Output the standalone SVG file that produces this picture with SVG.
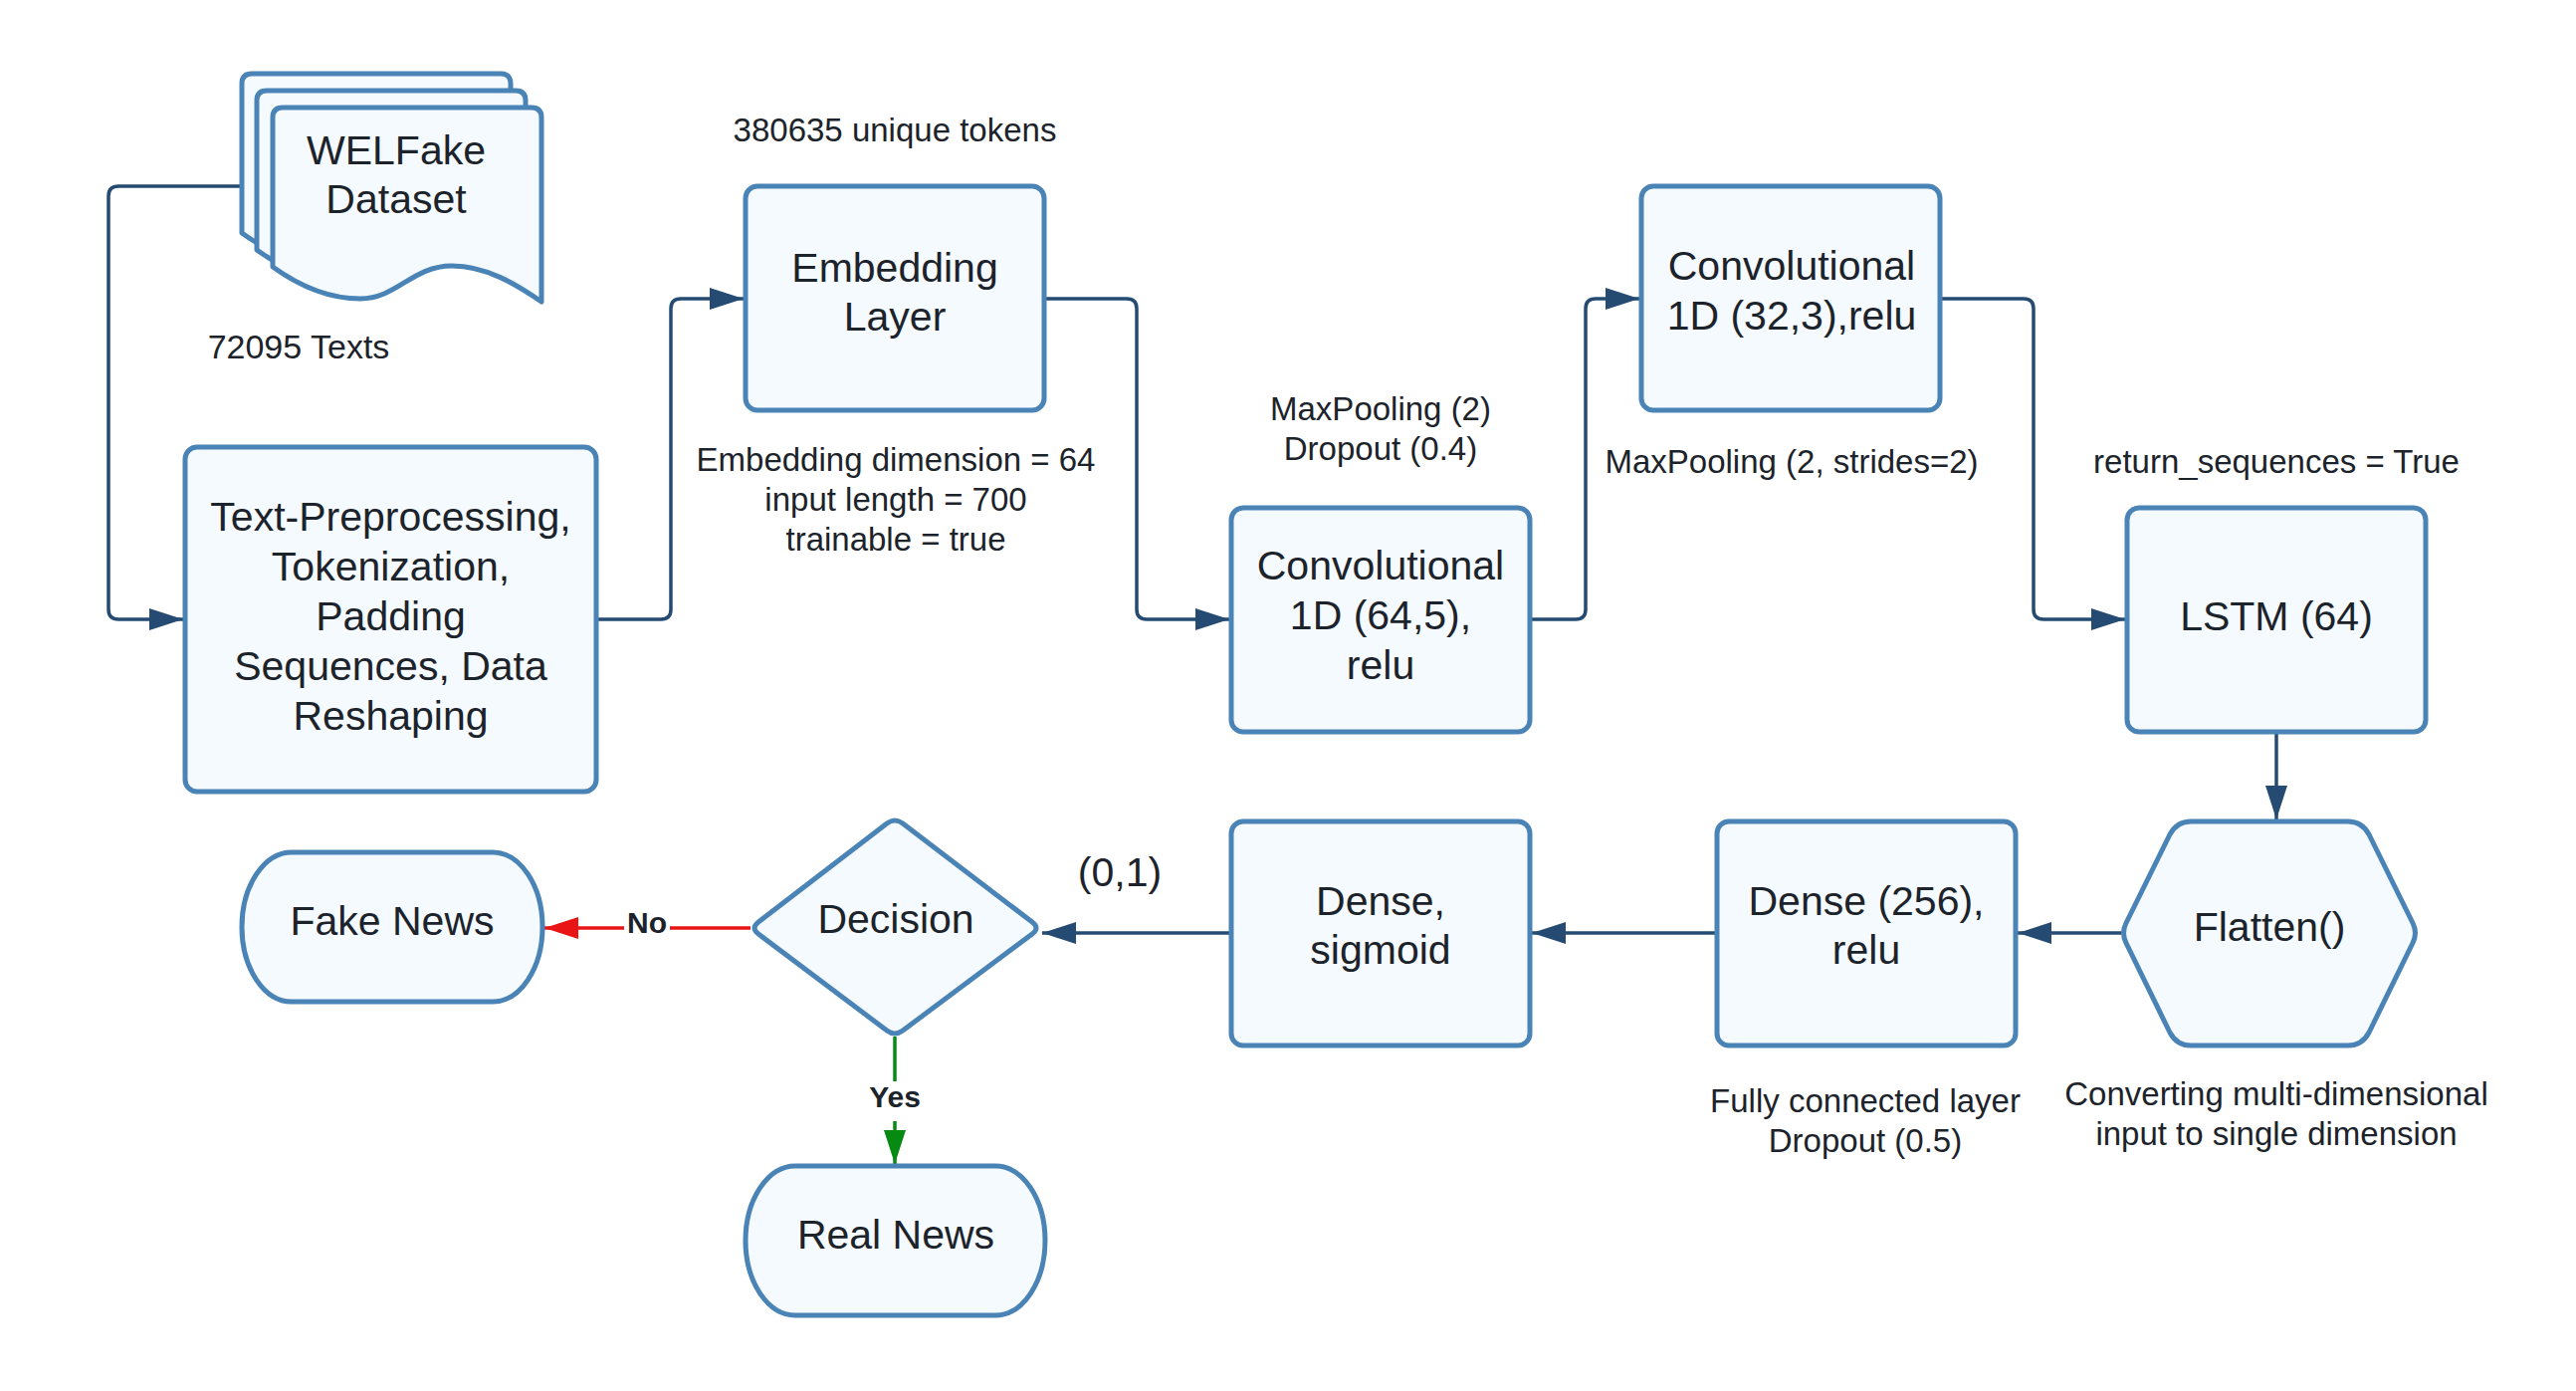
<svg xmlns="http://www.w3.org/2000/svg" width="2588" height="1397" viewBox="0 0 2588 1397">
<defs>
<style>
.node{fill:#F5FAFF;stroke:#4A83B5;stroke-width:5;stroke-linejoin:round}
.conn{fill:none;stroke:#254B72;stroke-width:3.5}
text{font-family:"Liberation Sans",Arial,sans-serif;fill:#1C232A;text-anchor:middle}
.lbl{font-size:41px}
.ann{font-size:33px}
.el{font-size:30px;font-weight:bold}
</style>
<marker id="ah" markerUnits="userSpaceOnUse" markerWidth="36" markerHeight="24" refX="34" refY="11" orient="auto">
<path d="M0,0 L34,11 L0,22 Z" fill="#254B72"/>
</marker>
<marker id="ahr" markerUnits="userSpaceOnUse" markerWidth="36" markerHeight="24" refX="34" refY="11" orient="auto">
<path d="M0,0 L34,11 L0,22 Z" fill="#E81416"/>
</marker>
<marker id="ahg" markerUnits="userSpaceOnUse" markerWidth="36" markerHeight="24" refX="34" refY="11" orient="auto">
<path d="M0,0 L34,11 L0,22 Z" fill="#078A12"/>
</marker>
<path id="doc" d="M0,160 C25,178 55,192 88,192 C125,192 140,159 180,159 C215,159 245,178 270,195 V10 Q270,0 260,0 H10 Q0,0 0,10 Z"/>
</defs>
<rect width="2588" height="1397" fill="#FFFFFF"/>

<g id="connectors">
<path class="conn" d="M243,187 H119 Q109,187 109,197 V612 Q109,622 119,622 H184" marker-end="url(#ah)"/>
<path class="conn" d="M599,622 H664 Q674,622 674,612 V310 Q674,300 684,300 H747" marker-end="url(#ah)"/>
<path class="conn" d="M1050,300 H1132 Q1142,300 1142,310 V612 Q1142,622 1152,622 H1235" marker-end="url(#ah)"/>
<path class="conn" d="M1537,622 H1583 Q1593,622 1593,612 V310 Q1593,300 1603,300 H1647" marker-end="url(#ah)"/>
<path class="conn" d="M1949,300 H2033 Q2043,300 2043,310 V612 Q2043,622 2053,622 H2135" marker-end="url(#ah)"/>
<path class="conn" d="M2287,735 V823" marker-end="url(#ah)"/>
<path class="conn" d="M2131,937 H2027" marker-end="url(#ah)"/>
<path class="conn" d="M1725,937 H1539" marker-end="url(#ah)"/>
<path class="conn" d="M1237,937 H1047" marker-end="url(#ah)"/>
<path class="conn" d="M754,932 H547" style="stroke:#E81416" marker-end="url(#ahr)"/>
<path class="conn" d="M899,1041 V1169" style="stroke:#078A12" marker-end="url(#ahg)"/>
<rect x="627" y="914" width="46" height="32" fill="#FFFFFF"/>
<text class="el" x="650" y="937">No</text>
<rect x="872" y="1086" width="54" height="40" fill="#FFFFFF"/>
<text class="el" x="899" y="1112">Yes</text>
</g>

<g id="dataset">
<use href="#doc" class="node" transform="translate(243,74)"/>
<use href="#doc" class="node" transform="translate(258,91)"/>
<use href="#doc" class="node" transform="translate(274,108)"/>
<text class="lbl" x="398" y="165">WELFake</text>
<text class="lbl" x="398" y="214">Dataset</text>
<text class="ann" x="300" y="360" style="font-size:34px">72095 Texts</text>
</g>

<g id="preprocessing">
<rect class="node" x="186" y="449" width="413" height="346" rx="12"/>
<text class="lbl" x="392.5" y="533">Text-Preprocessing,</text>
<text class="lbl" x="392.5" y="583">Tokenization,</text>
<text class="lbl" x="392.5" y="633">Padding</text>
<text class="lbl" x="392.5" y="683">Sequences, Data</text>
<text class="lbl" x="392.5" y="733">Reshaping</text>
</g>

<g id="embedding">
<rect class="node" x="749" y="187" width="300" height="225" rx="12"/>
<text class="lbl" x="899" y="283">Embedding</text>
<text class="lbl" x="899" y="332">Layer</text>
<text class="ann" x="899" y="142">380635 unique tokens</text>
<text class="ann" x="900" y="473">Embedding dimension = 64</text>
<text class="ann" x="900" y="513">input length = 700</text>
<text class="ann" x="900" y="553">trainable = true</text>
</g>

<g id="conv1">
<rect class="node" x="1237" y="510" width="300" height="225" rx="12"/>
<text class="lbl" x="1387" y="582">Convolutional</text>
<text class="lbl" x="1387" y="632">1D (64,5),</text>
<text class="lbl" x="1387" y="682">relu</text>
<text class="ann" x="1387" y="422">MaxPooling (2)</text>
<text class="ann" x="1387" y="462">Dropout (0.4)</text>
</g>

<g id="conv2">
<rect class="node" x="1649" y="187" width="300" height="225" rx="12"/>
<text class="lbl" x="1800" y="281">Convolutional</text>
<text class="lbl" x="1800" y="331">1D (32,3),relu</text>
<text class="ann" x="1800" y="475">MaxPooling (2, strides=2)</text>
</g>

<g id="lstm">
<rect class="node" x="2137" y="510" width="300" height="225" rx="12"/>
<text class="lbl" x="2287" y="633">LSTM (64)</text>
<text class="ann" x="2287" y="475">return_sequences = True</text>
</g>

<g id="flatten">
<path class="node" d="M2136,927 L2180,838 Q2187,825 2201,825 H2359 Q2373,825 2380,838 L2424,927 Q2429,937 2424,947 L2380,1037 Q2373,1050 2359,1050 H2201 Q2187,1050 2180,1037 L2136,947 Q2131,937 2136,927 Z"/>
<text class="lbl" x="2280" y="945">Flatten()</text>
<text class="ann" x="2287" y="1110">Converting multi-dimensional</text>
<text class="ann" x="2287" y="1150">input to single dimension</text>
</g>

<g id="dense256">
<rect class="node" x="1725" y="825" width="300" height="225" rx="12"/>
<text class="lbl" x="1875" y="919">Dense (256),</text>
<text class="lbl" x="1875" y="968">relu</text>
<text class="ann" x="1874" y="1117">Fully connected layer</text>
<text class="ann" x="1874" y="1157">Dropout (0.5)</text>
</g>

<g id="dense-sigmoid">
<rect class="node" x="1237" y="825" width="300" height="225" rx="12"/>
<text class="lbl" x="1387" y="919">Dense,</text>
<text class="lbl" x="1387" y="968">sigmoid</text>
<text class="lbl" x="1125" y="890">(0,1)</text>
</g>

<g id="decision">
<path class="node" d="M891,827 Q899,821 907,827 L1037,926 Q1045,932 1037,938 L907,1035 Q899,1041 891,1035 L762,938 Q754,932 762,926 Z"/>
<text class="lbl" x="900" y="937">Decision</text>
</g>

<g id="fake-news">
<path class="node" d="M293,856 H495 A50,75 0 0 1 495,1006 H293 A50,75 0 0 1 293,856 Z"/>
<text class="lbl" x="394" y="939">Fake News</text>
</g>

<g id="real-news">
<path class="node" d="M799,1171 H1000 A50,75 0 0 1 1000,1321 H799 A50,75 0 0 1 799,1171 Z"/>
<text class="lbl" x="900" y="1254">Real News</text>
</g>
</svg>
